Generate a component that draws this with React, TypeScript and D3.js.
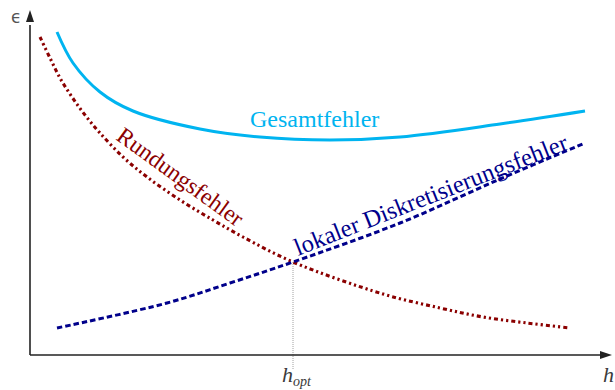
import React from "react";
import * as d3 from "d3";

// h values and error values (arbitrary units)
const roundX = [1.0, 2.0, 3.0, 4.2, 5.5, 7.0, 9.3, 11.7, 15.0, 18.3, 21.3, 26.3, 35.3, 41.0, 45.3, 49.7, 54.0];
const roundY = [31.8, 29.7, 27.7, 25.8, 24.0, 22.2, 19.8, 17.8, 15.5, 13.5, 11.8, 9.3, 6.1, 4.7, 3.8, 3.2, 2.7];

const totalX = [2.7, 4.3, 7.0, 10.3, 17.0, 23.0, 30.0, 37.0, 47.0, 55.5];
const totalY = [32.3, 29.2, 26.3, 24.4, 22.6, 21.8, 21.5, 21.8, 23.1, 24.4];

const discX = [2.7, 13.7, 20.0, 26.3, 37.0, 47.0, 55.5];
const discY = [2.7, 5.2, 7.2, 9.3, 13.2, 17.6, 21.2];

const hOpt = 26.3;
const eOpt = 9.3;

const labels = {
  total: "Gesamtfehler",
  round: "Rundungsfehler",
  disc: "lokaler Diskretisierungsfehler",
  yAxis: "ϵ",
  xAxis: "h",
  opt: "opt",
};

const W = 615;
const H = 390;

export default function App() {
  const x = d3.scaleLinear().domain([0, 58]).range([30, 610]);
  const y = d3.scaleLinear().domain([0, 34.5]).range([355, 10]);

  const line = d3
    .line<[number, number]>()
    .x((d) => x(d[0]))
    .y((d) => y(d[1]))
    .curve(d3.curveCatmullRom.alpha(0.5));

  const zip = (a: number[], b: number[]) => a.map((v, i) => [v, b[i]] as [number, number]);

  const axisColor = "#222";
  const serif = "'Liberation Serif', 'Times New Roman', serif";

  return (
    <svg
      width={W}
      height={H}
      style={{ position: "absolute", left: 0, top: 0, background: "#fff" }}
    >
      {/* optimum guide */}
      <line
        x1={x(hOpt)}
        x2={x(hOpt)}
        y1={y(eOpt)}
        y2={y(-1.5)}
        stroke="#888"
        strokeWidth={0.8}
        strokeDasharray="1 1"
      />

      {/* axes */}
      <line x1={x(0)} x2={x(57)} y1={y(0)} y2={y(0)} stroke={axisColor} strokeWidth={1.6} />
      <path
        d={`M${x(58.2)},${y(0)} L${x(57)},${y(0) - 4} L${x(57)},${y(0) + 4} Z`}
        fill={axisColor}
      />
      <line x1={x(0)} x2={x(0)} y1={y(0)} y2={y(33)} stroke={axisColor} strokeWidth={1.6} />
      <path
        d={`M${x(0)},${y(34.5)} L${x(0) - 4},${y(33.3)} L${x(0) + 4},${y(33.3)} Z`}
        fill={axisColor}
      />

      {/* curves */}
      <path
        d={line(zip(totalX, totalY)) || ""}
        fill="none"
        stroke="#00B4F0"
        strokeWidth={3}
      />
      <path
        d={line(zip(roundX, roundY)) || ""}
        fill="none"
        stroke="#8B0000"
        strokeWidth={3.1}
        strokeDasharray="4 3 2.2 3 2.2 3"
      />
      <path
        d={line(zip(discX, discY)) || ""}
        fill="none"
        stroke="#00008B"
        strokeWidth={3}
        strokeDasharray="5.5 3"
      />

      {/* labels */}
      <text x={250} y={127} fontFamily={serif} fontSize={24} fill="#00B4F0">
        {labels.total}
      </text>
      <text
        transform="translate(115,139) rotate(36)"
        fontFamily={serif}
        fontSize={23.5}
        fill="#8B0000"
      >
        {labels.round}
      </text>
      <text
        transform="translate(298,256) rotate(-21.5)"
        fontFamily={serif}
        fontSize={24.5}
        fill="#00008B"
      >
        {labels.disc}
      </text>

      {/* axis labels */}
      <text x={11} y={23} fontFamily="'DejaVu Sans', sans-serif" fontSize={17} fill="#555">
        {labels.yAxis}
      </text>
      <text x={603} y={382} fontFamily={serif} fontStyle="italic" fontSize={22} fill="#3a3a3a">
        {labels.xAxis}
      </text>
      <text x={x(hOpt) - 11} y={382} fontFamily={serif} fontStyle="italic" fontSize={22} fill="#3a3a3a">
        {labels.xAxis}
        <tspan dy={4} fontSize={14}>
          {labels.opt}
        </tspan>
      </text>
    </svg>
  );
}
